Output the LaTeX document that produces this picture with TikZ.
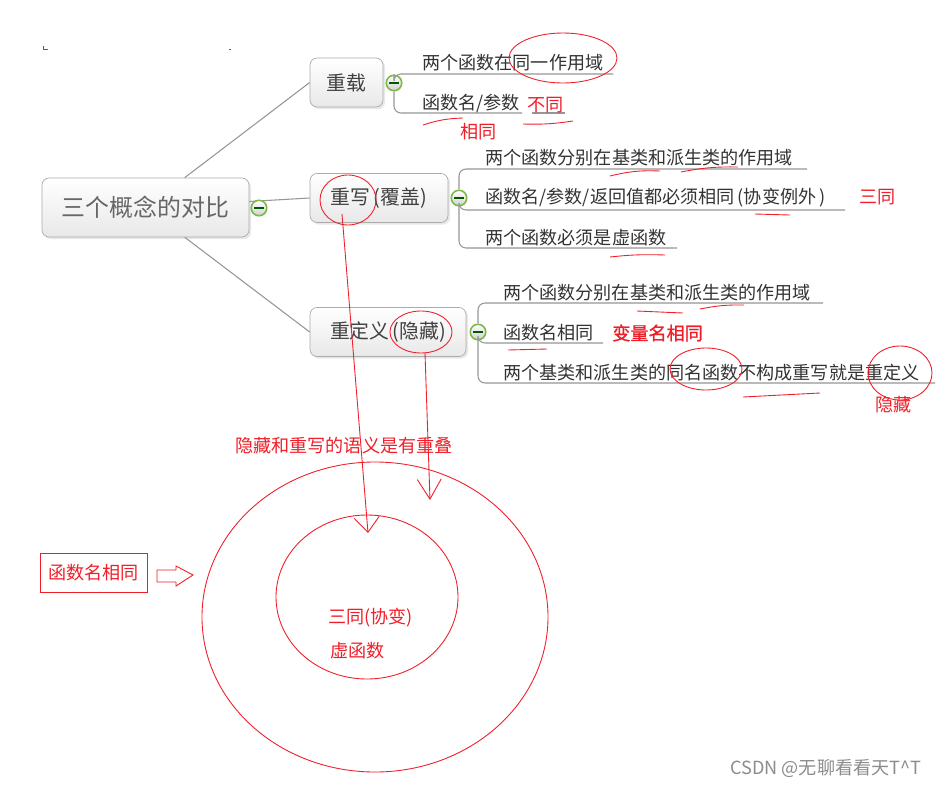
\documentclass[tikz,border=0pt]{standalone}
\usepackage{fontspec}
\setmainfont{Noto Sans CJK SC}[AutoFakeBold=1.2]
\usetikzlibrary{shadows,arrows.meta}
\definecolor{rouge}{RGB}{240,30,40}
\definecolor{gristrait}{RGB}{150,150,150}
\definecolor{vertbouton}{RGB}{125,185,70}

\begin{document}
\begin{tikzpicture}[x=0.02cm,y=-0.02cm]
\tikzset{boite/.style={draw=gristrait!80, rounded corners=4pt, top color=white, bottom color=black!9, drop shadow={opacity=0.18, shadow xshift=1.2pt, shadow yshift=-1.2pt}, text=black!75, minimum height=0.98cm, inner sep=0, font=\fontsize{11.3}{13}\selectfont},
bouton/.style={circle, draw=vertbouton, line width=0.9pt, inner sep=0, minimum size=0.31cm, top color=white, bottom color=black!18, path picture={\draw[green!35!black, line width=0.7pt] ([xshift=-2.8pt]path picture bounding box.center) -- ([xshift=2.8pt]path picture bounding box.center);}},
feuille/.style={anchor=west, inner sep=0, text=black!80, font=\fontsize{10.3}{12}\selectfont},
annot/.style={anchor=west, inner sep=0, text=rouge, font=\fontsize{10.3}{12}\selectfont},
trait/.style={draw=gristrait, line width=0.6pt},
crochet/.style={draw=gristrait, line width=0.6pt, rounded corners=4pt},
main/.style={draw=rouge, line width=0.5pt}}
\useasboundingbox[fill=white] (0,0) rectangle (947,785);
\node[boite, minimum width=4.14cm, minimum height=1.18cm, text=black!60, font=\fontsize{13.6}{16}\selectfont] (C0) at (145.5,207.5) {三个概念的对比};
\node[boite, minimum width=1.46cm] (C1) at (346.5,82.5) {重载};
\node[boite, minimum width=2.76cm] (C2) at (379,198) {重写\,(覆盖)};
\node[boite, minimum width=3.12cm] (C3) at (388,332) {重定义\,(隐藏)};
\draw[trait] (C0) -- (C1.west);
\draw[trait] (C0) -- (C2.west);
\draw[trait] (C0) -- (C3.west);
\node[bouton] (B0) at (259,208) {};
\node[bouton] (B1) at (394,83) {};
\node[bouton] (B2) at (459,198) {};
\node[bouton] (B3) at (478,332) {};
\coordinate (e11) at (613,74);
\coordinate (e12) at (522,113);
\coordinate (e21) at (807,169);
\coordinate (e22) at (845,210);
\coordinate (e23) at (677,248);
\coordinate (e31) at (823,303);
\coordinate (e32) at (603,343);
\coordinate (e33) at (935,383);
\draw[crochet] (B1.north) |- (e11);
\draw[crochet] (B1.south) |- (e12);
\draw[crochet] (B2.north) |- (e21);
\draw[crochet] (B2.south) |- (e22);
\draw[crochet] (B2.south) |- (e23);
\draw[crochet] (B3.north) |- (e31);
\draw[crochet] (B3.south) |- (e32);
\draw[crochet] (B3.south) |- (e33);
\node[feuille] (F11) at (422,63) {两个函数在同一作用域};
\node[feuille] (F12) at (422,103) {函数名/参数};
\node[feuille] (F21) at (485,158) {两个函数分别在基类和派生类的作用域};
\node[feuille] (F22) at (485,198) {函数名/参数/返回值都必须相同\,(协变例外\,)};
\node[feuille] (F23) at (485,238) {两个函数必须是虚函数};
\node[feuille] (F31) at (503,293) {两个函数分别在基类和派生类的作用域};
\node[feuille] (F32) at (503,333) {函数名相同};
\node[feuille] (F33) at (503,373) {两个基类和派生类的同名函数不构成重写就是重定义};
\draw[trait] (532,113) -- (565,113);
\node[annot] (A1) at (527,105) {不同};
\node[annot] (A2) at (460,132) {相同};
\node[annot] (A3) at (859,197) {三同};
\node[annot, font=\fontsize{10.3}{12}\selectfont\bfseries] (A4) at (612,333) {变量名相同};
\node[annot] (A5) at (875,405) {隐藏};
\node[annot] (A6) at (235,446) {隐藏和重写的语义是有重叠};
\node[annot] (A7) at (328,618) {三同(协变)};
\node[annot] (A8) at (330,651) {虚函数};
\node[draw=rouge, text=rouge, inner sep=0, minimum width=2.14cm, minimum height=0.78cm, font=\fontsize{10.3}{12}\selectfont] (A9) at (93.5,572.5) {函数名相同};
\draw[main] (43,46) -- (43,49) -- (48,49);
\draw[main] (229,49) -- (231,49);
\draw[main] (563,58) ellipse [x radius=54, y radius=25];
\draw[main] (348,200) ellipse [x radius=28, y radius=25];
\draw[main] (421,332) ellipse [x radius=31, y radius=21];
\draw[main] (706,369) ellipse [x radius=36, y radius=21];
\draw[main] (900,373) ellipse [x radius=32, y radius=27];
\draw[main] (423,125) to[bend left=8] (463,118);
\draw[main] (523,124) to[bend right=5] (573,121);
\draw[main] (610,176) to[bend left=8] (660,171);
\draw[main] (681,172) to[bend left=6] (738,167);
\draw[main] (755,214) -- (790,215);
\draw[main] (610,257) to[bend left=4] (665,255);
\draw[main] (637,311) -- (683,313);
\draw[main] (700,309) to[bend left=6] (744,305);
\draw[main] (508,350) -- (547,349);
\draw[main] (743,397) -- (820,393);
\draw[main] (375,617) ellipse [x radius=173, y radius=155];
\draw[main] (367,597) ellipse [x radius=91, y radius=82];
\coordinate (r1) at (342,214);
\coordinate (r2) at (368,533);
\coordinate (r3) at (425,353);
\coordinate (r4) at (430,500);
\draw[main, -{Straight Barb[length=0.3cm, width=0.5cm]}] (r1) -- (r2);
\draw[main, -{Straight Barb[length=0.4cm, width=0.48cm]}] (r3) -- (r4);
\draw[main] (157,570) -- (176,570) -- (176,566) -- (193,575) -- (176,586) -- (176,582) -- (157,582) -- cycle;
\node[anchor=west, inner sep=0, text=black!45, font=\fontsize{10.3}{12}\selectfont] (W) at (730,768) {CSDN @无聊看看天T\^{}T};
\end{tikzpicture}
\end{document}
